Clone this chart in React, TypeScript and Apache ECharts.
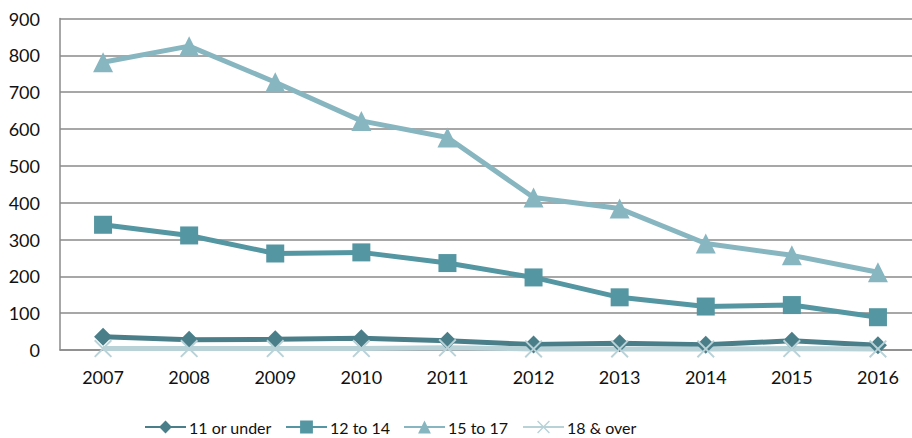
import React, { useEffect, useRef } from "react";
import * as echarts from "echarts";

const years = ["2007", "2008", "2009", "2010", "2011", "2012", "2013", "2014", "2015", "2016"];
const under11 = [36, 28, 29, 32, 25, 15, 18, 14, 25, 13];
const age12to14 = [340, 311, 262, 265, 236, 197, 143, 118, 122, 89];
const age15to17 = [781, 825, 727, 622, 577, 414, 384, 289, 257, 211];
const over18 = [4, 4, 4, 4, 6, 3, 3, 3, 4, 3];
const seriesNames = ["11 or under", "12 to 14", "15 to 17", "18 & over"];
const yTicks = { min: 0, max: 900, interval: 100 };

const xPath =
  "path://M0,1.5L1.5,0L10,8.5L18.5,0L20,1.5L11.5,10L20,18.5L18.5,20L10,11.5L1.5,20L0,18.5L8.5,10Z";

const FONT = "Lato";
const legendLefts = [144, 285, 403, 522];

export default function App() {
  const ref = useRef<HTMLDivElement>(null);
  useEffect(() => {
    if (!ref.current) return;
    const chart = echarts.init(ref.current, null, { renderer: "svg" });
    const mk = (name: string, data: number[], color: string, symbol: string, size: number | number[]) => ({
      name,
      type: "line",
      data,
      symbol,
      symbolSize: size,
      lineStyle: { color, width: 5 },
      itemStyle: { color, borderWidth: 0 },
      emphasis: { disabled: true },
    });
    chart.setOption({
      animation: false,
      textStyle: { fontFamily: FONT },
      grid: { left: 60, right: 0, top: 18.5, bottom: 88, containLabel: false },
      legend: seriesNames.map((n, i) => ({
        left: legendLefts[i],
        top: 419,
        padding: 0,
        itemWidth: 41,
        itemHeight: 16,
        itemGap: 0,
        textStyle: { fontFamily: FONT, fontSize: 16, color: "#111", padding: [0, 0, 0, -2] },
        data: [n],
      })),
      xAxis: {
        type: "category",
        data: years,
        boundaryGap: true,
        axisLine: { show: true, lineStyle: { color: "#8a8a8a", width: 1.5 } },
        axisTick: { show: false },
        axisLabel: { fontFamily: FONT, fontSize: 18, color: "#111", margin: 18 },
      },
      yAxis: {
        type: "value",
        min: yTicks.min,
        max: yTicks.max,
        interval: yTicks.interval,
        axisLine: { show: true, lineStyle: { color: "#8a8a8a", width: 1.5 } },
        axisTick: { show: false },
        splitLine: { show: true, lineStyle: { color: "#8a8a8a", width: 1.5 } },
        axisLabel: { fontFamily: FONT, fontSize: 18, color: "#111", margin: 20 },
      },
      series: [
        mk(seriesNames[0], under11, "#4a7e89", "diamond", [18, 18]),
        mk(seriesNames[1], age12to14, "#5496a2", "rect", [18, 18]),
        mk(seriesNames[2], age15to17, "#87b6c1", "triangle", [20, 20]),
        mk(seriesNames[3], over18, "#b8d2d8", xPath, [18, 18]),
      ],
    });
    return () => chart.dispose();
  }, []);
  return (
    <div style={{ position: "absolute", left: 0, top: 0, width: 912, height: 438, overflow: "hidden" }}>
      <div ref={ref} style={{ width: 921, height: 438 }} />
    </div>
  );
}
